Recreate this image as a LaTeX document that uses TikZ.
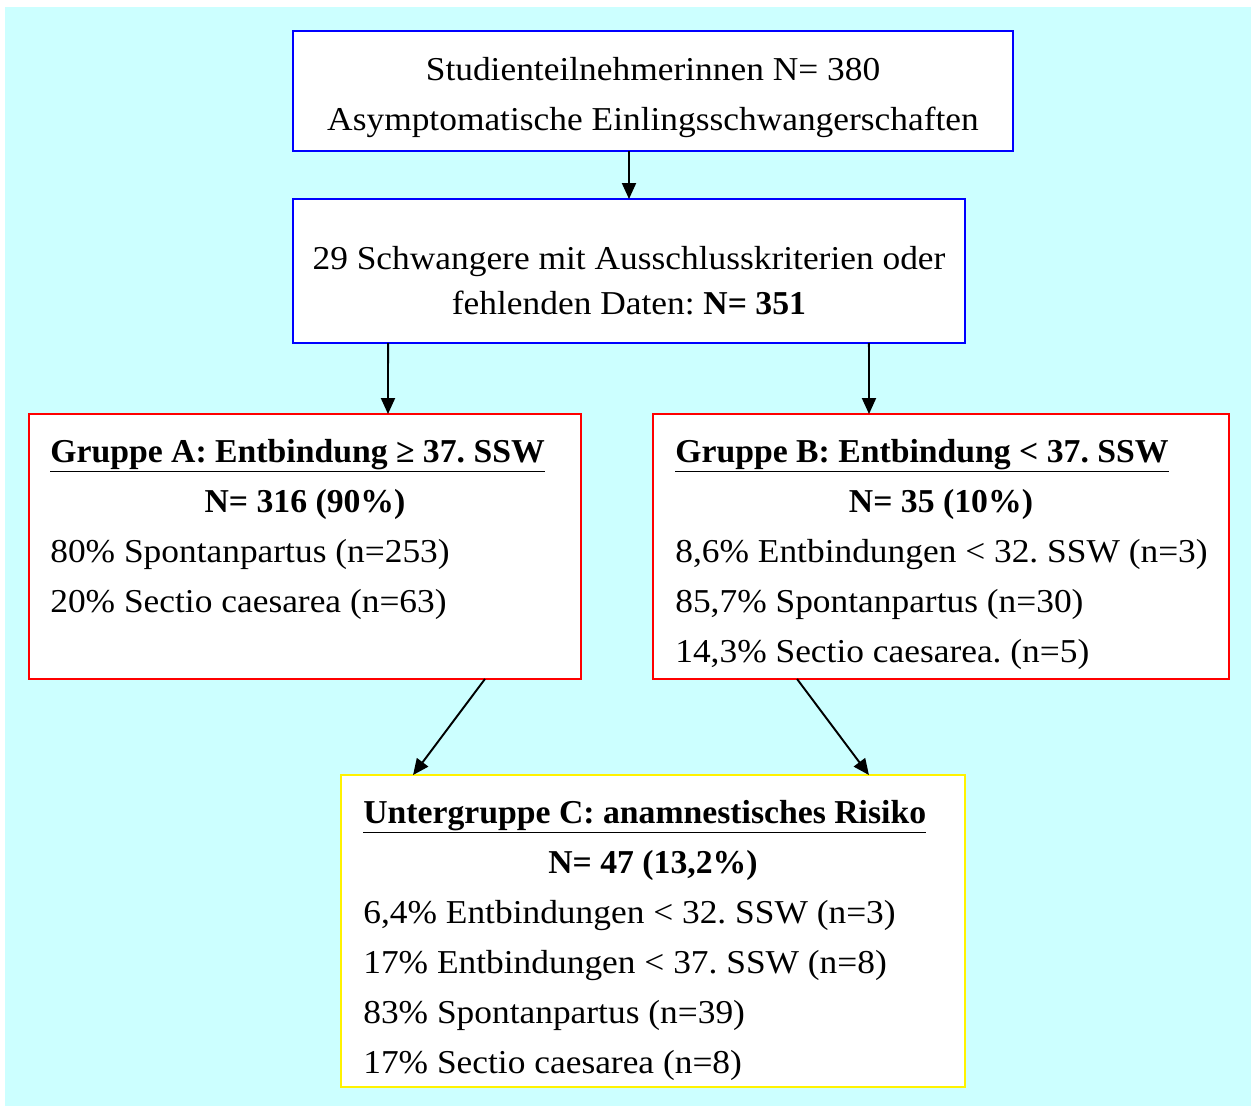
\documentclass[tikz,border=0pt]{standalone}
\usepackage{fontspec}
\setmainfont{Liberation Serif}[UprightFeatures={FakeStretch=1.06}, BoldFeatures={FakeStretch=1.01}]
\usetikzlibrary{arrows.meta}

\definecolor{bgcyan}{RGB}{204,255,255}

\tikzset{
  box/.style={draw, fill=white, line width=1.2pt, inner sep=0pt, outer sep=0pt},
  txt/.style={font=\fontsize{19}{28}\selectfont\frenchspacing, inner sep=0pt, anchor=base},
  lft/.style={txt, anchor=base west},
  arr/.style={-{Triangle[length=0.32cm, width=0.28cm]}, line width=1.1pt},
}

\begin{document}
\begin{tikzpicture}[x=0.02cm, y=-0.02cm]
\path[use as bounding box] (0,0) rectangle (1251,1106);
\fill[bgcyan] (5,7) rectangle (1251,1106);

% boxes
\node[box, draw=blue, minimum width=14.4cm, minimum height=2.4cm]    (start) at (653,91)    {};
\node[box, draw=blue, minimum width=13.44cm, minimum height=2.88cm]  (excl)  at (629,271)   {};
\node[box, draw=red, minimum width=11.04cm, minimum height=5.3cm]    (grpA)  at (305,546.5) {};
\node[box, draw=red, minimum width=11.52cm, minimum height=5.3cm]    (grpB)  at (941,546.5) {};
\node[box, draw=yellow, minimum width=12.48cm, minimum height=6.24cm] (grpC) at (653,931)   {};

% texts
\node[txt] (s1) at (653,80)  {Studienteilnehmerinnen N= 380};
\node[txt] (s2) at (653,130) {Asymptomatische Einlingsschwangerschaften};

\node[txt] (e1) at (629,269) {29 Schwangere mit Ausschlusskriterien oder};
\node[txt] (e2) at (629,314) {fehlenden Daten: \textbf{N= 351}};

\node[lft] (a1) at (50,462)  {\textbf{\underline{Gruppe A: Entbindung ≥ 37. SSW}}};
\node[txt] (a2) at (305,512) {\textbf{N= 316 (90\%)}};
\node[lft] (a3) at (50,562)  {80\% Spontanpartus (n=253)};
\node[lft] (a4) at (50,612)  {20\% Sectio caesarea (n=63)};

\node[lft] (b1) at (675,462) {\textbf{\underline{Gruppe B: Entbindung < 37. SSW}}};
\node[txt] (b2) at (941,512) {\textbf{N= 35 (10\%)}};
\node[lft] (b3) at (675,562) {8,6\% Entbindungen < 32. SSW (n=3)};
\node[lft] (b4) at (675,612) {85,7\% Spontanpartus (n=30)};
\node[lft] (b5) at (675,662) {14,3\% Sectio caesarea. (n=5)};

\node[lft] (c1) at (363,823)  {\textbf{\underline{Untergruppe C: anamnestisches Risiko}}};
\node[txt] (c2) at (653,873)  {\textbf{N= 47 (13,2\%)}};
\node[lft] (c3) at (363,923)  {6,4\% Entbindungen < 32. SSW (n=3)};
\node[lft] (c4) at (363,973)  {17\% Entbindungen < 37. SSW (n=8)};
\node[lft] (c5) at (363,1023) {83\% Spontanpartus (n=39)};
\node[lft] (c6) at (363,1073) {17\% Sectio caesarea (n=8)};

% arrows
\draw[arr] (start.south -| excl.north) -- (excl.north);
\draw[arr] ([xshift=-4.82cm]excl.south) -- ([xshift=1.66cm]grpA.north);
\draw[arr] ([xshift=4.8cm]excl.south)   -- ([xshift=-1.44cm]grpB.north);
\draw[arr] ([xshift=3.6cm]grpA.south)   -- ([xshift=-4.8cm]grpC.north);
\draw[arr] ([xshift=-2.88cm]grpB.south) -- ([xshift=4.32cm]grpC.north);

\end{tikzpicture}
\end{document}
